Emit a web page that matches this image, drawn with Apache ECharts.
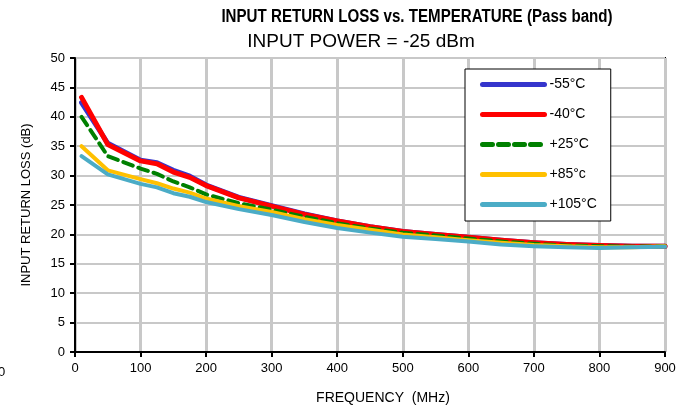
<!DOCTYPE html>
<html><head><meta charset="utf-8">
<script src="https://cdn.jsdelivr.net/npm/echarts@6/dist/echarts.min.js"></script>
<style>html,body{margin:0;padding:0;background:#fff}#c{width:690px;height:410px}</style>
</head><body><div id="c"></div>
<script>
const freq = [10,50,100,125,150,175,200,250,300,350,400,450,500,550,600,650,700,750,800,850,900];
const m55  = [42.4,35.5,32.6,32.2,30.9,29.9,28.4,26.3,24.9,23.5,22.3,21.3,20.5,20.0,19.5,19.0,18.6,18.3,18.1,18.0,18.0];
const m40  = [43.3,35.3,32.5,32.0,30.6,29.7,28.3,26.2,24.8,23.4,22.3,21.3,20.5,20.0,19.5,19.0,18.6,18.3,18.1,18.0,18.0];
const p25  = [40.0,33.3,31.2,30.3,29.0,28.0,26.8,25.3,24.2,23.0,21.9,21.0,20.3,19.8,19.3,18.8,18.4,18.1,18.0,17.9,18.0];
const p85  = [35.0,30.9,29.4,28.7,27.8,27.1,26.1,24.8,23.8,22.6,21.6,20.8,20.0,19.5,19.0,18.6,18.2,18.0,17.8,17.8,18.0];
const p105 = [33.3,30.2,28.6,28.0,27.0,26.4,25.5,24.3,23.3,22.1,21.1,20.3,19.6,19.2,18.8,18.3,18.0,17.8,17.7,17.8,17.9];
const names = ['-55°C','-40°C','+25°C','+85°c','+105°C'];
const colors = ['#3535cc','#ff0000','#008000','#ffc000','#4bacc6'];
const widths = [5,5,4,4,4];
const dashes = ['solid','solid',[10,6],'solid','solid'];
const all = [m55,m40,p25,p85,p105];
const font = 'Liberation Sans, Arial, sans-serif';
const chart = echarts.init(document.getElementById('c'));
chart.setOption({
  animation:false,
  title:[
    {text:'INPUT POWER = -25 dBm',left:356,top:27,textAlign:'center',
     textStyle:{fontFamily:font,fontSize:19,fontWeight:'normal',color:'#000'}}
  ],
  grid:{left:75,right:25,top:58,bottom:57,show:true,borderColor:'#000',borderWidth:2},
  legend:{orient:'vertical',left:465,top:69,padding:[8,14,9,15],itemGap:15,itemWidth:62,itemHeight:15,
    backgroundColor:'#fff',borderColor:'#000',borderWidth:1,
    itemStyle:{opacity:0},lineStyle:{width:5},
    textStyle:{fontFamily:font,fontSize:14,color:'#000',lineHeight:15},data:names},
  xAxis:{type:'value',min:0,max:900,interval:100,
    name:'FREQUENCY  (MHz)',nameLocation:'middle',nameGap:39,
    nameTextStyle:{fontFamily:font,fontSize:14,color:'#000',padding:[0,0,0,26]},
    axisLine:{lineStyle:{color:'#000',width:2}},axisTick:{show:true,length:5,lineStyle:{color:'#000',width:2}},
    axisLabel:{fontFamily:font,fontSize:13,color:'#000',margin:10},
    splitLine:{show:true,lineStyle:{color:'#c8c8c8',width:3}}},
  yAxis:{type:'value',min:0,max:50,interval:5,
    name:'INPUT RETURN LOSS (dB)',nameLocation:'middle',nameGap:42,
    nameTextStyle:{fontFamily:font,fontSize:13,color:'#000'},
    axisLine:{show:true,lineStyle:{color:'#000',width:2}},axisTick:{show:true,length:5,lineStyle:{color:'#000',width:2}},
    axisLabel:{fontFamily:font,fontSize:13,color:'#000',margin:10},
    splitLine:{show:true,lineStyle:{color:'#c8c8c8',width:2}}},
  graphic:[
    {type:'text',x:417,y:8,scaleX:0.84,style:{text:'INPUT RETURN LOSS vs. TEMPERATURE (Pass band)',x:0,y:0,
      align:'center',font:'bold 18px '+font,fill:'#000'}},
    {type:'text',left:-2,top:366,style:{text:'0',font:'13px '+font,fill:'#000'}}
  ],
  series: all.map((arr,i)=>({
    name:names[i],type:'line',symbol:'none',smooth:false,
    data:freq.map((f,j)=>[f,arr[j]]),
    lineStyle:{color:colors[i],width:widths[i],type:dashes[i],cap:'round',join:'round'},
    itemStyle:{color:colors[i]}
  }))
});
</script></body></html>
